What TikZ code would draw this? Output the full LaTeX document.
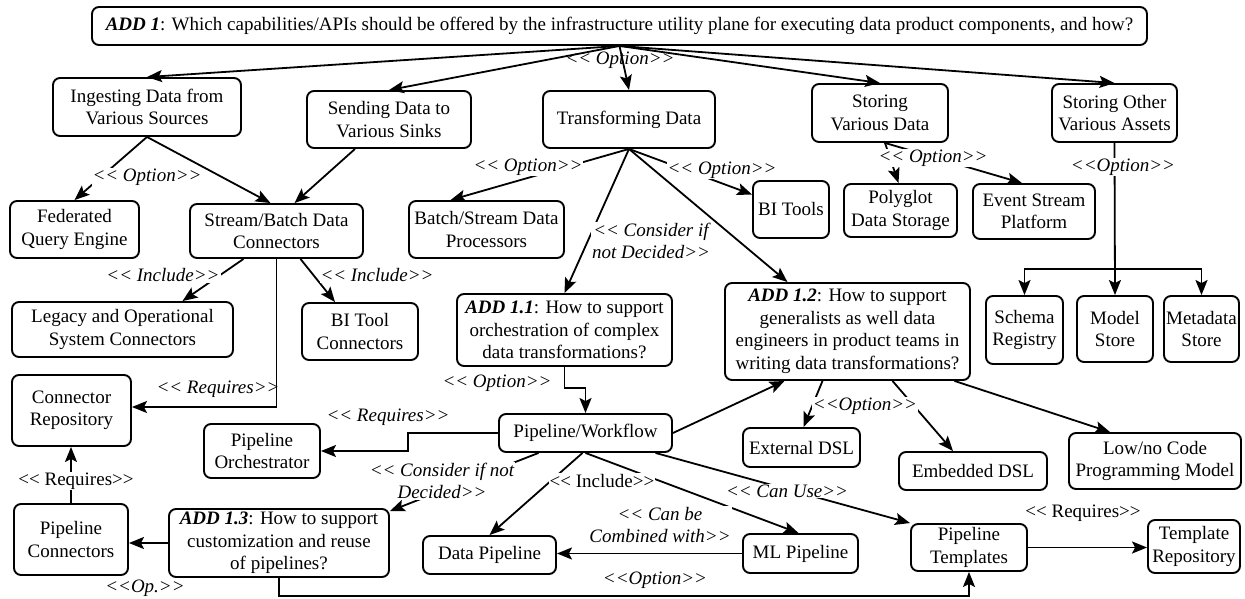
\documentclass[tikz,border=0pt]{standalone}
\usepackage{fontspec}
\setmainfont{LiberationSerif}[Extension=.ttf,UprightFont=*-Regular,BoldFont=*-Bold,ItalicFont=*-Italic,BoldItalicFont=*-BoldItalic]
\usetikzlibrary{arrows.meta}
\newcommand{\stl}{<\kern0pt<}
\newcommand{\str}{>\kern0pt>}
\tikzset{
  box/.style={draw, rounded corners=7pt, line width=1.9pt, align=center, inner sep=2pt},
  sz/.style 2 args={minimum width=#1pt, minimum height=#2pt},
  lbl/.style={font=\fontsize{19}{22.5}\selectfont\itshape, inner sep=1pt, align=center},
  lblw/.style={lbl, fill=white},
  lblu/.style={lblw, font=\fontsize{19}{22.5}\selectfont\upshape},
}
\begin{document}
\begin{tikzpicture}[x=1pt,y=-1pt,font=\fontsize{19}{22.5}\selectfont,
    line width=1.8pt,>={Stealth[length=15pt,width=12pt,inset=3pt]}]
  \useasboundingbox (0,0) rectangle (1245,599);

  % top decision and its options
  \node[box,sz={1055}{38}] (add1) at (619.5,26) {\textbf{\textit{ADD 1}}: Which capabilities/APIs should be offered by the infrastructure utility plane for executing data product components, and how?};
  \node[box,sz={188}{58}] (ingest) at (147,107) {Ingesting Data from\\Various Sources};
  \node[box,sz={164}{57}] (send) at (389,119.5) {Sending Data to\\Various Sinks};
  \node[box,sz={172}{57}] (transf) at (629,119.5) {Transforming Data};
  \node[box,sz={136}{58}] (storedata) at (880,113) {Storing\\Various Data};
  \node[box,sz={125}{58}] (storeother) at (1114.5,113) {Storing Other\\Various Assets};

  % second row
  \node[box,sz={129}{57}] (fed) at (74.5,229.5) {Federated\\Query Engine};
  \node[box,sz={173}{54}] (connectors) at (276.5,231) {Stream/Batch Data\\Connectors};
  \node[box,sz={155}{57}] (processors) at (486.5,229.5) {Batch/Stream Data\\Processors};
  \node[box,sz={76}{57}] (bitools) at (791,209.5) {BI Tools};
  \node[box,sz={113}{53}] (polyglot) at (900.5,210.5) {Polyglot\\Data Storage};
  \node[box,sz={122}{55}] (eventstream) at (1034,211.5) {Event Stream\\Platform};

  % third row
  \node[box,sz={221}{55}] (legacy) at (122.5,329.5) {Legacy and Operational\\System Connectors};
  \node[box,sz={116}{57}] (biconn) at (360,331.5) {BI Tool\\Connectors};
  \node[box,sz={215}{72}] (add11) at (564.5,330) {\textbf{\textit{ADD 1.1}}: How to support\\orchestration of complex\\data transformations?};
  \node[box,sz={245}{97}] (add12) at (847.5,331.5) {\textbf{\textit{ADD 1.2}}: How to support\\generalists as well data\\engineers in product teams in\\writing data transformations?};
  \node[box,sz={77}{68}] (schema) at (1024.5,330) {Schema\\Registry};
  \node[box,sz={76}{66}] (model) at (1115,329) {Model\\Store};
  \node[box,sz={75}{66}] (metadata) at (1201.5,329) {Metadata\\Store};

  % pipelines
  \node[box,sz={119}{71}] (connrepo) at (71.5,410.5) {Connector\\Repository};
  \node[box,sz={116}{54}] (orchestrator) at (262,451) {Pipeline\\Orchestrator};
  \node[box,sz={173}{38}] (workflow) at (585.5,433) {Pipeline/Workflow};
  \node[box,sz={117}{39}] (extdsl) at (801.5,447.5) {External DSL};
  \node[box,sz={148}{38}] (embdsl) at (973,471) {Embedded DSL};
  \node[box,sz={172}{56}] (lowcode) at (1155,461) {Low/no Code\\Programming Model};
  \node[box,sz={220}{68}] (add13) at (279,543) {\textbf{\textit{ADD 1.3}}: How to support\\customization and reuse\\of pipelines?};
  \node[box,sz={114}{71}] (pipeconn) at (71,539.5) {Pipeline\\Connectors};
  \node[box,sz={133}{38}] (datapipe) at (489.5,555) {Data Pipeline};
  \node[box,sz={115}{39}] (mlpipe) at (800.5,553.5) {ML Pipeline};
  \node[box,sz={116}{47}] (templates) at (969,547.5) {Pipeline\\Templates};
  \node[box,sz={92}{53}] (templrepo) at (1194,546.5) {Template\\Repository};

  % connectors
  \foreach \n in {ingest,send,transf,storedata,storeother}
    \draw[->] (add1.south) -- (\n.north);
  \draw[->] (ingest.south) -- (fed.north);
  \draw[->] (ingest.south) -- ([xshift=-6pt]connectors.north);
  \draw[->] ([xshift=-34pt]send.south) -- ([xshift=18pt]connectors.north);
  \draw[->] (transf.south) -- ([xshift=-36pt]processors.north);
  \draw[->] (transf.south) -- ([yshift=15pt]bitools.west);
  \draw[->] (transf.south) -- (add11.north);
  \draw[->] (transf.south) -- ([xshift=-60pt]add12.north);
  \draw[->] ([xshift=5pt]storedata.south) -- ([xshift=-2pt]polyglot.north);
  \draw[->] ([xshift=5pt]storedata.south) -- ([xshift=-12pt]eventstream.north);
  \coordinate (split) at (1114.5,269);
  \draw[->] (storeother.south) -- (model.north);
  \foreach \n in {schema,metadata}
    \draw[->] (split) -| (\n.north);
  \draw[->] ([xshift=-33pt]connectors.south) -- ([xshift=60pt]legacy.north);
  \draw[->] ([xshift=24pt]connectors.south) -- ([xshift=-25pt]biconn.north);
  \draw[->] (connectors.south) |- ([yshift=3.5pt]connrepo.east);
  \draw[->] (add11.south) -- ++(0,21) -| (workflow.north);
  \draw[->] (workflow.west) -- ++(-90,0) |- (orchestrator.east);
  \draw[->] (workflow.east) -- ([xshift=-63pt]add12.south);
  \draw[->] ([xshift=-25pt]add12.south) -- ([xshift=2pt]extdsl.north);
  \draw[->] ([xshift=45pt]add12.south) -- ([xshift=-20pt]embdsl.north);
  \draw[->] ([xshift=107pt]add12.south) -- ([xshift=-45pt]lowcode.north);
  \draw[->] ([xshift=-3pt]workflow.south) -- (datapipe.north);
  \draw[->] (workflow.south) -- ([xshift=-2pt]mlpipe.north);
  \draw[->] ([xshift=70pt]workflow.south) -- (templates.north west);
  \draw[->] ([xshift=-47pt]workflow.south) -- ([yshift=-3pt]add13.north east);
  \draw[->] (mlpipe.west) -- (mlpipe.west -| datapipe.east);
  \draw[->] (add13.west) -- (add13.west -| pipeconn.east);
  \draw[->] (pipeconn.north) -- (pipeconn.north |- connrepo.south);
  \draw[->] (add13.south) -- ++(0,18) -| (templates.south);
  \draw[->] (templates.east) -- (templates.east -| templrepo.west);

  % labels
  \node[lbl] (lopttop) at (620,60) {\stl{} Option\str};
  \node[lblw] (loptingest) at (147,177) {\stl{} Option\str};
  \node[lblw] (linclleg) at (163,275) {\stl{} Include\str};
  \node[lblw] (linclbi) at (377,275) {\stl{} Include\str};
  \node[lblw] (loptproc) at (528,167) {\stl{} Option\str};
  \node[lblw] (loptbi) at (722,170) {\stl{} Option\str};
  \node[lblw] (lconsa) at (651,241) {\stl{} Consider if\\not Decided\str};
  \node[lblw] (loptstore) at (933,158) {\stl{} Option\str};
  \node[lblw] (loptother) at (1123,167) {\stl Option\str};
  \node[lbl] (lreqconn) at (218,389) {\stl{} Requires\str};
  \node[lblw] (lreqorch) at (388,417) {\stl{} Requires\str};
  \node[lblw] (loptwork) at (497,383) {\stl{} Option\str};
  \node[lblw] (loptdsl) at (865,406) {\stl Option\str};
  \node[lblu] (lreqpipe) at (76,481) {\stl{} Requires\str};
  \node[lblw] (lconsb) at (442,481) {\stl{} Consider if not\\Decided\str};
  \node[lblu] (lincl) at (602,481) {\stl{} Include\str};
  \node[lblw] (lcanuse) at (787,491) {\stl{} Can Use\str};
  \node[lblw] (lcomb) at (660,525) {\stl{} Can be\\Combined with\str};
  \node[lblu] (lreqtempl) at (1083,513) {\stl{} Requires\str};
  \node[lblw] (loptbottom) at (655,580) {\stl Option\str};
  \node[lbl] (lop) at (145,588) {\stl Op.\str};
\end{tikzpicture}
\end{document}
